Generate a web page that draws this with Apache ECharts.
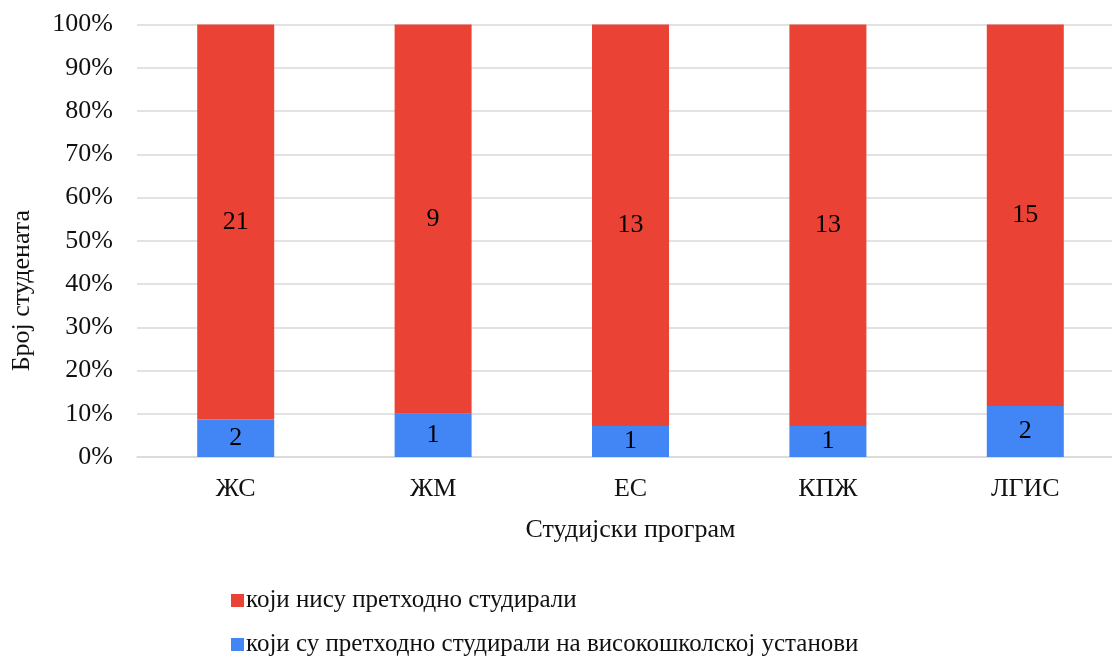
<!DOCTYPE html>
<html>
<head>
<meta charset="utf-8">
<script src="https://cdn.jsdelivr.net/npm/echarts@6/dist/echarts.min.js"></script>
<style>html,body{margin:0;padding:0;background:#fff;overflow:hidden;}#c{width:1124px;height:657px;}</style>
</head>
<body>
<div id="c"></div>
<script>
const categories = ['ЖС', 'ЖМ', 'ЕС', 'КПЖ', 'ЛГИС'];
const studiedBefore = [2, 1, 1, 1, 2];
const notStudied = [21, 9, 13, 13, 15];
const yTickLabels = ['0%','10%','20%','30%','40%','50%','60%','70%','80%','90%','100%'];
const seriesNames = ['који нису претходно студирали', 'који су претходно студирали на високошколској установи'];

const totals = categories.map((c, i) => studiedBefore[i] + notStudied[i]);
const pctBlue = studiedBefore.map((v, i) => v / totals[i] * 100);
const pctRed = notStudied.map((v, i) => v / totals[i] * 100);

const FONT = 'Liberation Serif';
const FS = 26;
const legendCommon = {
  orient: 'vertical', left: 226,
  itemWidth: 13, itemHeight: 13, icon: 'rect',
  textStyle: { fontFamily: FONT, fontSize: 25, color: '#111', padding: [0, 0, 0, -3] }
};
const chart = echarts.init(document.getElementById('c'));
chart.setOption({
  animation: false,
  textStyle: { fontFamily: FONT },
  grid: { left: 137, top: 24.5, right: 0, bottom: 200, containLabel: false },
  legend: [
    Object.assign({}, legendCommon, { top: 583, data: [seriesNames[0]] }),
    Object.assign({}, legendCommon, { top: 627, data: [seriesNames[1]] })
  ],
  xAxis: {
    type: 'category', data: categories,
    name: 'Студијски програм', nameLocation: 'middle', nameGap: 60,
    nameTextStyle: { fontFamily: FONT, fontSize: FS, color: '#111' },
    axisLine: { lineStyle: { color: '#d9d9d9', width: 1.5 } },
    axisTick: { show: false },
    axisLabel: { fontFamily: FONT, fontSize: FS, color: '#111', margin: 19 }
  },
  yAxis: {
    type: 'value', min: 0, max: 100, interval: 10,
    axisLine: { show: false }, axisTick: { show: false },
    splitLine: { lineStyle: { color: '#d9d9d9', width: 1.5 } },
    axisLabel: { fontFamily: FONT, fontSize: FS, color: '#111', margin: 24,
      formatter: (v) => yTickLabels[Math.round(v / 10)] }
  },
  graphic: [{
    type: 'text', left: 9, top: 210, rotation: Math.PI / 2,
    style: { text: 'Број студената', font: FS + 'px "Liberation Serif"', fill: '#111' }
  }],
  series: [
    {
      name: seriesNames[1], type: 'bar', stack: 'a', barWidth: 77,
      data: pctBlue, itemStyle: { color: '#4285F4' },
      label: { show: true, position: 'inside', fontFamily: FONT, fontSize: FS, color: '#000',
        formatter: (p) => studiedBefore[p.dataIndex] }
    },
    {
      name: seriesNames[0], type: 'bar', stack: 'a', barWidth: 77,
      data: pctRed, itemStyle: { color: '#EA4335' },
      label: { show: true, position: 'inside', fontFamily: FONT, fontSize: FS, color: '#000',
        formatter: (p) => notStudied[p.dataIndex] }
    }
  ]
});
</script>
</body>
</html>
